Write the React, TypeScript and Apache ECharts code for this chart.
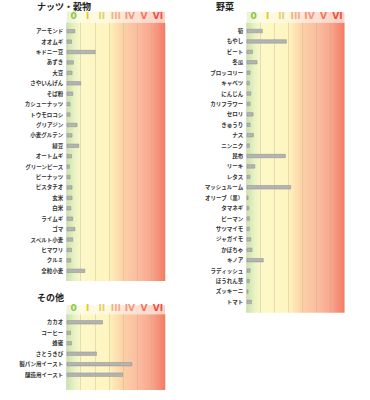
import React, { useEffect, useRef } from "react";
import * as echarts from "echarts";

const levelLabels = ["0", "I", "II", "III", "IV", "V", "VI"];
const levelColors = ["#8cc63e", "#e8c81a", "#dfd070", "#f2b08a", "#f29479", "#f0735a", "#ee4e42"];

const nutsCategories = [
  "アーモンド", "オオムギ", "キドニー豆", "あずき", "大豆", "さやいんげん", "そば粉", "カシューナッツ",
  "トウモロコシ", "グリアジン", "小麦グルテン", "緑豆", "オートムギ", "グリーンピース", "ピーナッツ",
  "ピスタチオ", "玄米", "白米", "ライムギ", "ゴマ", "スペルト小麦", "ヒマワリ", "クルミ", "全粒小麦",
];
const nutsValues = [
  0.6, 0.36, 2.05, 0.5, 0.4, 1.02, 0.45, 0.26,
  0.26, 0.76, 0.4, 0.88, 0.36, 0.21, 0.26,
  0.4, 0.4, 0.31, 0.45, 0.6, 0.45, 0.36, 0.31, 1.31,
];

const vegCategories = [
  "筍", "もやし", "ビート", "冬瓜", "ブロッコリー", "キャベツ", "にんじん", "カリフラワー", "セロリ",
  "きゅうり", "ナス", "ニンニク", "昆布", "リーキ", "レタス", "マッシュルーム", "オリーブ（黒）",
  "タマネギ", "ピーマン", "サツマイモ", "ジャガイモ", "かぼちゃ", "キノア", "ラディッシュ",
  "ほうれん草", "ズッキーニ", "トマト",
];
const vegValues = [
  1.14, 2.86, 0.43, 0.76, 0.26, 0.21, 0.31, 0.26, 0.48,
  0.26, 0.5, 0.21, 2.79, 0.6, 0.26, 3.17, 0.12,
  0.17, 0.21, 0.21, 0.31, 0.4, 1.21, 0.26,
  0.21, 0.12, 0.36,
];

const otherCategories = ["カカオ", "コーヒー", "蜂蜜", "さとうきび", "製パン用イースト", "醸造用イースト"];
const otherValues = [2.57, 0.29, 0.36, 2.14, 4.66, 4.0];

const titles = ["ナッツ・穀物", "野菜", "その他"];

const CJK = "'Noto Sans CJK JP', 'Noto Sans', sans-serif";

function bodyGradient() {
  return new echarts.graphic.LinearGradient(0, 0, 1, 0, [
    { offset: 0, color: "#c9e2ad" },
    { offset: 0.08, color: "#e9f2c3" },
    { offset: 0.15, color: "#fdf8c8" },
    { offset: 0.42, color: "#fef5c0" },
    { offset: 0.5, color: "#fde2b0" },
    { offset: 0.58, color: "#fcd0a6" },
    { offset: 0.72, color: "#fbbda0" },
    { offset: 0.86, color: "#f9a68e" },
    { offset: 1, color: "#f47c66" },
  ]);
}
function headerGradient() {
  return new echarts.graphic.LinearGradient(0, 0, 1, 0, [
    { offset: 0, color: "#e8f2dc" },
    { offset: 0.15, color: "#fefbe3" },
    { offset: 0.43, color: "#fef8dc" },
    { offset: 0.57, color: "#fde8d8" },
    { offset: 1, color: "#fbd2c8" },
  ]);
}

type Panel = {
  cats: string[];
  vals: number[];
  left: number;
  width: number;
  headerTop: number;
  bodyTop: number;
  bodyBottom: number;
  barTop: number;
  barBottom: number;
};

const panels: Panel[] = [
  { cats: nutsCategories, vals: nutsValues, left: 66.7, width: 98.3, headerTop: 11.5, bodyTop: 22.7, bodyBottom: 281, barTop: 26, barBottom: 276 },
  { cats: vegCategories, vals: vegValues, left: 246.7, width: 97.7, headerTop: 12, bodyTop: 22.7, bodyBottom: 312.7, barTop: 25.8, barBottom: 307.1 },
  { cats: otherCategories, vals: otherValues, left: 66.7, width: 98.3, headerTop: 305.3, bodyTop: 314.3, bodyBottom: 390, barTop: 317.1, barBottom: 379.9 },
];

const titlePos = [
  { left: 37, top: 1.5 },
  { left: 216, top: 1.5 },
  { left: 37, top: 293 },
];

export default function App() {
  const ref = useRef<HTMLDivElement>(null);
  useEffect(() => {
    if (!ref.current) return;
    const chart = echarts.init(ref.current, undefined, { renderer: "svg" });
    const grid: any[] = [];
    const xAxis: any[] = [];
    const yAxis: any[] = [];
    const series: any[] = [];
    const graphic: any[] = [];

    panels.forEach((p, i) => {
      // background grid (body + header labels)
      grid.push({
        left: p.left,
        top: p.bodyTop,
        width: p.width,
        height: p.bodyBottom - p.bodyTop,
        show: true,
        backgroundColor: bodyGradient(),
        borderWidth: 0,
      });
      // bar grid
      grid.push({
        left: p.left,
        top: p.barTop,
        width: p.width,
        height: p.barBottom - p.barTop,
      });
      const bgIdx = i * 2;
      const barIdx = i * 2 + 1;
      xAxis.push({
        gridIndex: bgIdx,
        type: "category",
        position: "top",
        data: levelLabels.map((l, k) => ({ value: l, textStyle: { color: levelColors[k] } })),
        axisLine: { show: false },
        axisTick: { show: false },
        axisLabel: {
          interval: 0,
          margin: 1.5,
          fontSize: 9,
          lineHeight: 10,
          fontWeight: "bold",
          fontFamily: "'DejaVu Sans', sans-serif",
        },
        splitLine: { show: true, lineStyle: { color: "rgba(185,175,130,0.35)", width: 1 } },
      });
      yAxis.push({ gridIndex: bgIdx, type: "value", show: false, splitLine: { show: false } });
      xAxis.push({ gridIndex: barIdx, type: "value", min: 0, max: 7, show: false, splitLine: { show: false } });
      yAxis.push({
        gridIndex: barIdx,
        type: "category",
        inverse: true,
        data: p.cats,
        axisLine: { show: false },
        axisTick: { show: false },
        axisLabel: {
          interval: 0,
          margin: 3.5,
          fontSize: 5.5,
          fontWeight: "bold",
          color: "#333",
          fontFamily: CJK,
        },
      });
      series.push({
        type: "bar",
        xAxisIndex: barIdx,
        yAxisIndex: barIdx,
        data: p.vals,
        barWidth: 4,
        silent: true,
        itemStyle: { color: "#b3b3b3", borderColor: "#8f8f8f", borderWidth: 0.5 },
      });
      graphic.push({
        type: "rect",
        shape: { x: p.left, y: p.headerTop, width: p.width, height: p.bodyTop - p.headerTop },
        style: { fill: headerGradient() },
        z: -10,
        silent: true,
      });
    });

    chart.setOption({
      animation: false,
      title: titles.map((t, i) => ({
        text: t,
        left: titlePos[i].left,
        top: titlePos[i].top,
        padding: 0,
        textStyle: { fontSize: 9, fontWeight: "bold", color: "#222", fontFamily: CJK },
      })),
      grid,
      xAxis,
      yAxis,
      series,
      graphic: { elements: graphic },
    });
    return () => chart.dispose();
  }, []);
  return (
    <div
      ref={ref}
      style={{ position: "absolute", left: 0, top: 0, width: 370, height: 400, background: "#fff" }}
    />
  );
}
